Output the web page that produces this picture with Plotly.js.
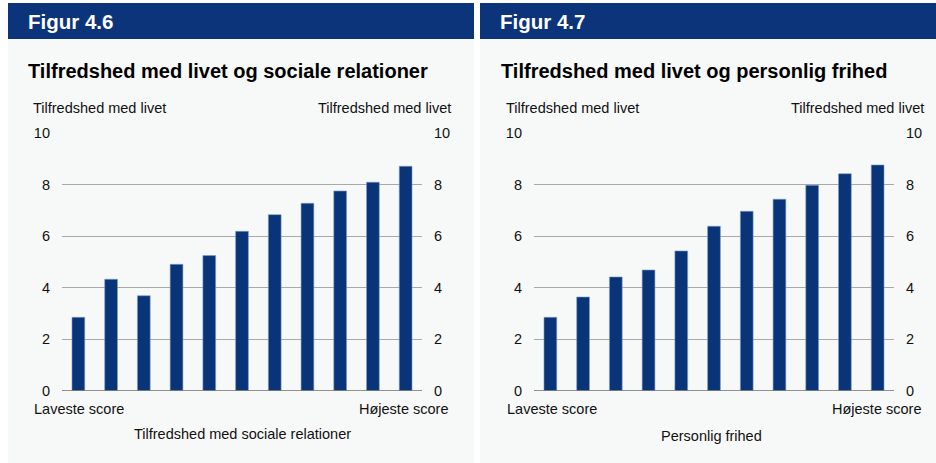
<!DOCTYPE html>
<html>
<head>
<meta charset="utf-8">
<script src="https://cdn.plot.ly/plotly-3.0.1.min.js"></script>
<style>html,body{margin:0;padding:0;background:#fff;}#chart{width:936px;height:463px;}</style>
</head>
<body>
<div id="chart"></div>
<script>
// Data
const categories = ['1','2','3','4','5','6','7','8','9','10','11'];
const socialeRelationer = [2.85, 4.33, 3.69, 4.91, 5.25, 6.19, 6.84, 7.28, 7.76, 8.10, 8.72];
const personligFrihed = [2.85, 3.64, 4.42, 4.69, 5.43, 6.39, 6.97, 7.44, 7.98, 8.43, 8.77];
const figurLabels = ['Figur 4.6', 'Figur 4.7'];
const chartTitles = ['Tilfredshed med livet og sociale relationer', 'Tilfredshed med livet og personlig frihed'];
const xTitles = ['Tilfredshed med sociale relationer', 'Personlig frihed'];
const yTitle = 'Tilfredshed med livet';
const lowLabel = 'Laveste score';
const highLabel = 'Højeste score';
const yTicks = [0, 2, 4, 6, 8, 10];

const W = 936, H = 463;
const px = v => v / W;
const py = v => 1 - v / H;
const FONT = 'Liberation Sans, Arial, sans-serif';
const BAR = '#0a3478';
const TXT = '#111111';
const FS = 14.5;

function barTrace(y, xa, ya) {
  return {type: 'bar', x: categories, y: y, xaxis: xa, yaxis: ya, width: 0.39,
    marker: {color: BAR, line: {color: '#7f9cc8', width: 0.6}}, hoverinfo: 'skip', showlegend: false};
}
function ghost(y, xa, ya) {
  return {type: 'scatter', mode: 'markers', x: categories, y: y, xaxis: xa, yaxis: ya,
    marker: {opacity: 0, size: 1}, hoverinfo: 'skip', showlegend: false};
}

const data = [
  barTrace(socialeRelationer, 'x', 'y'),
  ghost(socialeRelationer, 'x', 'y2'),
  barTrace(personligFrihed, 'x2', 'y3'),
  ghost(personligFrihed, 'x2', 'y4')
];

const yDomain = [1 - 390.7 / H, 1 - 133.3 / H];
function xAxis(d0, d1) {
  return {domain: [px(d0), px(d1)], range: [-0.5, 10.5], showticklabels: false, showgrid: false,
    zeroline: false, showline: false, ticks: '', fixedrange: true, type: 'category'};
}
function yAxis(side, anchor, overlay) {
  const a = {domain: yDomain, range: [0, 10], tickvals: yTicks, side: side, anchor: anchor,
    showgrid: true, gridcolor: '#a9a9a9', gridwidth: 1, zeroline: false, showline: false, ticks: '',
    tickfont: {family: FONT, size: FS, color: TXT}, ticklabelstandoff: 11, fixedrange: true};
  if (overlay) { a.overlaying = overlay; a.showgrid = false; }
  return a;
}

const shapes = [
  // panel backgrounds
  {type: 'rect', xref: 'paper', yref: 'paper', x0: px(8), x1: px(474), y0: py(463), y1: py(3), fillcolor: '#f7f9f9', line: {width: 0}, layer: 'below'},
  {type: 'rect', xref: 'paper', yref: 'paper', x0: px(480), x1: px(936), y0: py(463), y1: py(3), fillcolor: '#f7f9f9', line: {width: 0}, layer: 'below'},
  // header bars
  {type: 'rect', xref: 'paper', yref: 'paper', x0: px(8), x1: px(474), y0: py(39), y1: py(3), fillcolor: '#0b347a', line: {width: 0}, layer: 'below'},
  {type: 'rect', xref: 'paper', yref: 'paper', x0: px(480), x1: px(936), y0: py(39), y1: py(3), fillcolor: '#0b347a', line: {width: 0}, layer: 'below'},
  // baselines
  {type: 'line', xref: 'x domain', yref: 'y', x0: 0, x1: 1, y0: 0, y1: 0, line: {color: '#6e6e6e', width: 1.5}},
  {type: 'line', xref: 'x2 domain', yref: 'y3', x0: 0, x1: 1, y0: 0, y1: 0, line: {color: '#6e6e6e', width: 1.5}}
];

function ann(text, x, y, xanchor, size, bold, color) {
  return {text: bold ? '<b>' + text + '</b>' : text, x: px(x), y: py(y), xref: 'paper', yref: 'paper',
    xanchor: xanchor, yanchor: 'middle', showarrow: false,
    font: {family: FONT, size: size, color: color || TXT}};
}

const annotations = [
  ann(figurLabels[0], 26, 21, 'left', 20.5, true, '#ffffff'),
  ann(figurLabels[1], 498, 21, 'left', 20.5, true, '#ffffff'),
  ann(chartTitles[0], 26, 71, 'left', 20, true, '#000000'),
  ann(chartTitles[1], 499, 71, 'left', 20, true, '#000000'),
  ann(yTitle, 31, 108, 'left', FS),
  ann(yTitle, 453, 108, 'right', FS),
  ann(yTitle, 504, 108, 'left', FS),
  ann(yTitle, 926, 108, 'right', FS),
  ann(lowLabel, 32, 409, 'left', FS),
  ann(highLabel, 450, 409, 'right', FS),
  ann(lowLabel, 505, 409, 'left', FS),
  ann(highLabel, 923, 409, 'right', FS),
  ann(xTitles[0], 242, 434, 'center', FS),
  ann(xTitles[1], 711, 436, 'center', FS)
];

const layout = {
  width: W, height: H, margin: {l: 0, r: 0, t: 0, b: 0},
  paper_bgcolor: '#ffffff', plot_bgcolor: 'rgba(0,0,0,0)',
  font: {family: FONT, size: FS, color: TXT},
  showlegend: false, bargap: 0.6,
  xaxis: xAxis(62, 422),
  yaxis: yAxis('left', 'x'),
  yaxis2: yAxis('right', 'x', 'y'),
  xaxis2: xAxis(534, 894),
  yaxis3: yAxis('left', 'x2'),
  yaxis4: yAxis('right', 'x2', 'y3'),
  shapes: shapes,
  annotations: annotations
};

Plotly.newPlot('chart', data, layout, {displayModeBar: false, staticPlot: true});
</script>
</body>
</html>
